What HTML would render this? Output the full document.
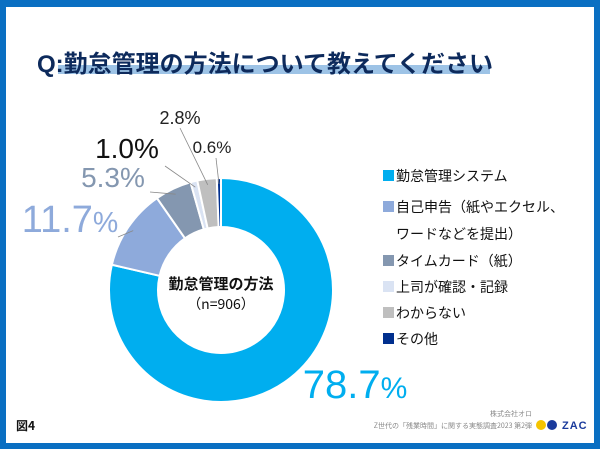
<!DOCTYPE html>
<html><head><meta charset="utf-8"><style>
body{margin:0;width:600px;height:448px;overflow:hidden;background:#fff;font-family:"Liberation Sans","Noto Sans CJK JP",sans-serif}
#frame{position:absolute;left:0;top:0;width:588px;height:436px;border:6px solid #0a6fc2;border-top-width:7px;border-bottom-width:6px}
</style></head><body>
<div id="frame"></div>
<svg width="600" height="448" style="position:absolute;left:0;top:0">
<rect x="58" y="65" width="432" height="9" fill="#9dc3e6"/>
<text x="37" y="72" font-size="24" font-weight="bold" fill="#0d2a5c" font-family="Liberation Sans,Noto Sans CJK JP,sans-serif">Q:勤怠管理の方法について教えてください</text>
<g id="donut"></g>
<g id="labels"></g>
<text x="221" y="289" font-size="15" text-anchor="middle" font-weight="bold" fill="#111" font-family="Noto Sans CJK JP,sans-serif">勤怠管理の方法</text>
<text x="221" y="309" font-size="14" text-anchor="middle" fill="#111" font-family="Noto Sans CJK JP,sans-serif">（n=906）</text>
<g id="legend"></g>
<text x="16" y="430" font-size="12" font-weight="bold" fill="#111" font-family="Noto Sans CJK JP,sans-serif">図4</text>
<text x="532" y="416" font-size="7" text-anchor="end" fill="#888" font-family="Noto Sans CJK JP,sans-serif">株式会社オロ</text>
<text x="532" y="428" font-size="7" text-anchor="end" fill="#888" font-family="Noto Sans CJK JP,sans-serif">Z世代の「残業時間」に関する実態調査2023 第2弾</text>
<circle cx="541" cy="425" r="5" fill="#f5c400"/>
<circle cx="552" cy="425" r="5" fill="#1a3a9c"/>
<text x="562" y="429" font-size="11" font-weight="bold" fill="#1a3a9c" letter-spacing="1">ZAC</text>
</svg>
<script>
const categories=["勤怠管理システム","自己申告(紙やエクセル、ワードなどを提出)","タイムカード(紙)","上司が確認・記録","わからない","その他"];
const values=[78.7,11.7,5.3,1.0,2.8,0.6];
const colors=["#00aeef","#8eaadb","#8497b0","#dae3f3","#bfbfbf","#002f8e"];
const NS="http://www.w3.org/2000/svg";
const cx=221,cy=290,R=112,r=63;
const total=values.reduce((a,b)=>a+b,0);
function pt(a,rad){return [cx+rad*Math.sin(a),cy-rad*Math.cos(a)];}
const g=document.getElementById('donut');
let a0=0;const mids=[];
values.forEach((v,i)=>{
  const a1=a0+v/total*2*Math.PI;
  const [x1,y1]=pt(a0,R),[x2,y2]=pt(a1,R),[x3,y3]=pt(a1,r),[x4,y4]=pt(a0,r);
  const lg=(a1-a0)>Math.PI?1:0;
  const p=document.createElementNS(NS,'path');
  p.setAttribute('d',`M${x1},${y1}A${R},${R} 0 ${lg} 1 ${x2},${y2}L${x3},${y3}A${r},${r} 0 ${lg} 0 ${x4},${y4}Z`);
  p.setAttribute('fill',colors[i]);p.setAttribute('stroke','#fff');p.setAttribute('stroke-width','2');
  
  
  g.appendChild(p);mids.push((a0+a1)/2);a0=a1;
});
const lab=document.getElementById('labels');
const lx=[355,70,113,127,180,212],ly=[398,232,187,158,124,153],ls=[40,38,28,28,18,17];
const lc=["#00aeef","#8eaadb","#8497b0","#111","#222","#222"];
const lineEnd=[null,[118,237],[150,192],[165,166],[180,128],[216,158]];
values.forEach((v,i)=>{
  if(lineEnd[i]){
    const [px,py]=pt(mids[i],R-6);
    const l=document.createElementNS(NS,'line');
    l.setAttribute('x1',px);l.setAttribute('y1',py);l.setAttribute('x2',lineEnd[i][0]);l.setAttribute('y2',lineEnd[i][1]);
    l.setAttribute('stroke','#888');l.setAttribute('stroke-width','0.8');
    
    
    lab.appendChild(l);
  }
  const t=document.createElementNS(NS,'text');
  t.setAttribute('x',lx[i]);t.setAttribute('y',ly[i]);t.setAttribute('font-size',ls[i]);
  t.setAttribute('text-anchor','middle');t.setAttribute('fill',lc[i]);
  t.innerHTML=v.toFixed(1)+'<tspan font-size="'+(ls[i]>30?ls[i]*0.75:ls[i])+'">%</tspan>';
  
  
  lab.appendChild(t);
});
const lg=document.getElementById('legend');
const rows=[["勤怠管理システム",176],["自己申告（紙やエクセル、",207],["ワードなどを提出）",234],["タイムカード（紙）",261],["上司が確認・記録",287],["わからない",313],["その他",339]];
let ci=0;
rows.forEach((row,k)=>{
  if(k!==2){
    const s=document.createElementNS(NS,'rect');
    s.setAttribute('x',383);s.setAttribute('y',row[1]-6);s.setAttribute('width',11);s.setAttribute('height',11);
    s.setAttribute('fill',colors[ci]);
    
    
    lg.appendChild(s);ci++;
  }
  const t=document.createElementNS(NS,'text');
  t.setAttribute('x',396);t.setAttribute('y',row[1]+5);t.setAttribute('font-size',14);t.setAttribute('fill','#111');
  t.setAttribute('font-family','Noto Sans CJK JP,sans-serif');
  t.textContent=row[0];
  
  
  lg.appendChild(t);
});
</script>
</body></html>
